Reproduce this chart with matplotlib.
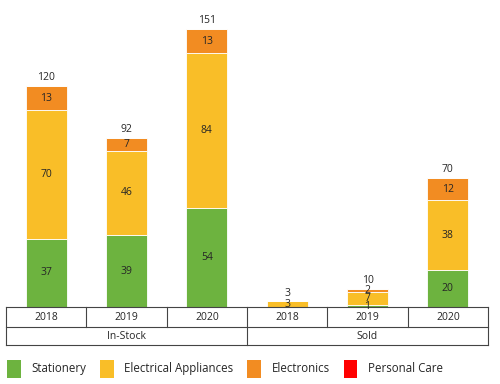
import matplotlib.pyplot as plt
import matplotlib.transforms as mtransforms
import numpy as np
from matplotlib.patches import Patch

plt.rcParams['font.family'] = ['Open Sans', 'DejaVu Sans']

#===============================================================================
groups = ["In-Stock", "Sold"]
years = ["2018", "2019", "2020"]
series = ["Stationery", "Electrical Appliances", "Electronics", "Personal Care"]

stationery = [37, 39, 54, 0, 1, 20]
electrical = [70, 46, 84, 3, 7, 38]
electronics = [13, 7, 13, 0, 2, 12]
personal_care = [0, 0, 0, 0, 0, 0]

colors = ["#6db33f", "#f9be28", "#f28c22", "#ff0000"]
text_color = "#262626"

#===============================================================================
fig = plt.figure(figsize=(5.0, 3.84), dpi=100)
ax = fig.add_axes([0.012, 0.2005, 0.964, 0.7735])

values = [stationery, electrical, electronics, personal_care]
n = len(stationery)
x = np.arange(n)
bottom = np.zeros(n)

for name, vals, color in zip(series, values, colors):
    vals = np.array(vals, dtype=float)
    ax.bar(x, vals, 0.51, bottom=bottom, color=color, edgecolor="white",
           linewidth=0.6, label=name)
    for xi, b, v in zip(x, bottom, vals):
        if v > 0:
            ax.text(xi, b + v / 2, f"{int(v)}", ha="center", va="center",
                    fontsize=7.5, color=text_color)
    bottom += vals

for xi, total in zip(x, bottom):
    ax.annotate(f"{int(total)}", (xi, total), xytext=(0, 6),
                textcoords="offset points", ha="center", va="center",
                fontsize=7.5, color=text_color)

ax.set_xlim(-0.5, n - 0.5)
ax.set_ylim(0, 161.4)
ax.set_xticks([])
ax.set_yticks([])
for side in ["top", "right", "left"]:
    ax.spines[side].set_visible(False)
ax.spines["bottom"].set_color("#444444")
ax.spines["bottom"].set_linewidth(0.8)

#===============================================================================
# two-level category axis
trans = mtransforms.blended_transform_factory(ax.transData, ax.transAxes)
h = 297.0
row1 = -20 / h
row2 = -38 / h
line_kw = dict(color="#444444", linewidth=0.8, transform=trans, clip_on=False)

for i in range(n + 1):
    xb = i - 0.5
    if i % len(years) == 0:
        ax.plot([xb, xb], [0, row2], **line_kw)
    else:
        ax.plot([xb, xb], [0, row1], **line_kw)
ax.plot([-0.5, n - 0.5], [row1, row1], **line_kw)
ax.plot([-0.5, n - 0.5], [row2, row2], **line_kw)

for i in range(n):
    ax.text(i, row1 / 2, years[i % len(years)], transform=trans,
            ha="center", va="center", fontsize=7.5, color=text_color)
for g, name in enumerate(groups):
    xc = g * len(years) + (len(years) - 1) / 2
    ax.text(xc, (row1 + row2) / 2, name, transform=trans,
            ha="center", va="center", fontsize=7.5, color=text_color)

#===============================================================================
handles = [Patch(facecolor=c, edgecolor="none", label=s) for s, c in zip(series, colors)]
fig.legend(handles=handles, loc="center left", bbox_to_anchor=(-0.006, 0.04),
           ncol=4, frameon=False, fontsize=8.3, handlelength=1.15, handleheight=2.0,
           handletextpad=0.95, columnspacing=1.2, labelcolor=text_color)

fig.savefig("out.png", dpi=100)
